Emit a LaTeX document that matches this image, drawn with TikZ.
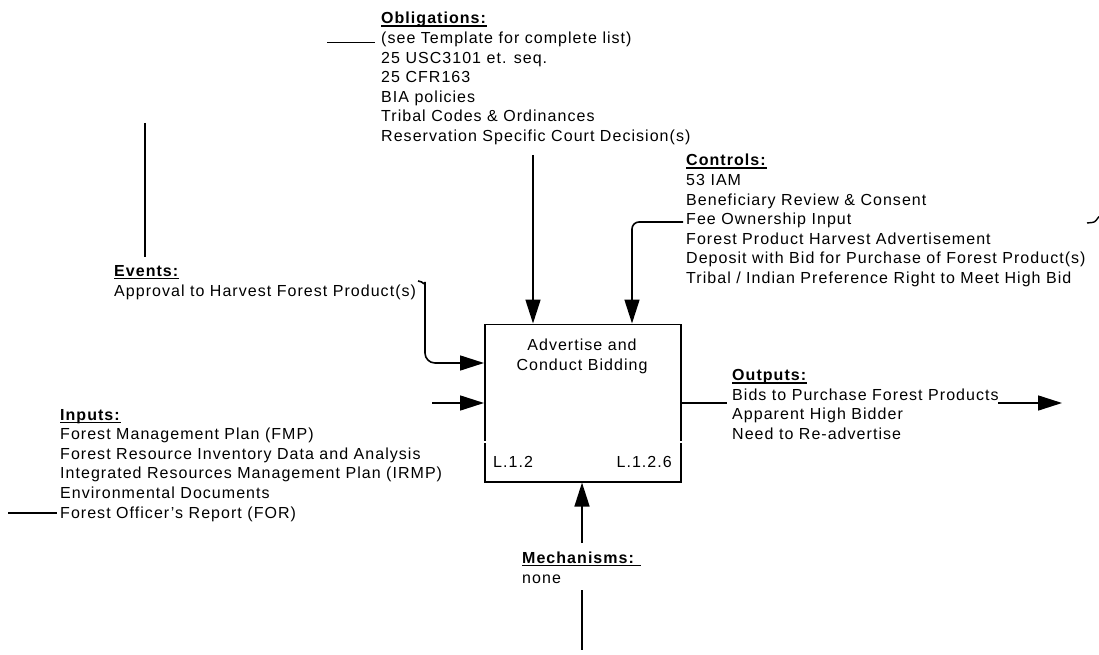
\documentclass[tikz,border=0pt]{standalone}
\usepackage{fontspec}
\setmainfont{Liberation Sans}[LetterSpace=6.5]
\usetikzlibrary{arrows.meta,calc}
% underlined bold heading with a fixed rule position
\newsavebox\hdbox
\newcommand\hd[1]{\sbox\hdbox{\textbf{#1}}\usebox\hdbox\llap{\rule[-2.8pt]{\wd\hdbox}{1.3pt}}}
\begin{document}
\begin{tikzpicture}[x=1pt,y=-1pt,
  every node/.style={inner sep=0pt, font=\fontsize{16}{19.6}\selectfont},
  % blocks are placed by the baseline of their last line
  block/.style={align=left, anchor=base west},
  wire/.style={line width=1.6pt},
  flow/.style={wire, -{Triangle[length=24pt,width=15pt]}},
]
\useasboundingbox (0,0) rectangle (1099,655);

% activity box
\node[draw, line width=1.6pt, minimum width=196pt, minimum height=157.5pt, anchor=north west] (act) at (484,323.5) {};
\fill[white] (481,440.5) rectangle (487,442.5);
\fill[white] (677,440.5) rectangle (683,442.5);
\node[align=center, anchor=base] (title) at (582,370) {Advertise and\\Conduct Bidding};
\node[anchor=base west] (nodeid) at (493,467) {L.1.2};
\node[anchor=base east] (ref) at (672,467) {L.1.2.6};

% obligations
\node[block] (obl) at (381,141.5) {\hd{Obligations:}\\(see Template for complete list)\\25 USC3101 et. seq.\\25 CFR163\\BIA policies\\Tribal Codes \& Ordinances\\Reservation Specific Court Decision(s)};
\coordinate (oblTail) at (327,42.5);
\coordinate (oblHead) at (375,42.5);
\draw[wire] (oblTail) -- (oblHead);
\coordinate (oblFoot) at (533,155);
\draw[flow] (oblFoot) -- (oblFoot |- act.north);

% controls
\node[block] (ctl) at (686,283.5) {\hd{Controls:}\\53 IAM\\Beneficiary Review \& Consent\\Fee Ownership Input\\Forest Product Harvest Advertisement\\Deposit with Bid for Purchase of Forest Product(s)\\Tribal / Indian Preference Right to Meet High Bid};
\coordinate (ctlStart) at (683,222);
\coordinate (ctlBend) at (632,222);
\draw[flow, rounded corners=7] (ctlStart) -- (ctlBend) -- (ctlBend |- act.north);
\coordinate (hookA) at (1087,223);
\coordinate (hookB) at (1099,216.5);
\draw[line width=1.4pt] (hookA) -- ++(5,-0.5) to[out=0,in=-130] (hookB);

% events
\coordinate (evTop) at (145,123);
\coordinate (evBot) at (145,257);
\draw[wire] (evTop) -- (evBot);
\node[block] (ev) at (114,296) {\hd{Events:}\\Approval to Harvest Forest Product(s)};
\coordinate (evStart) at (418,281);
\coordinate (evDrop) at (425,292);
\draw[flow, rounded corners=10] (evStart) to[out=0,in=90] (evDrop) -- (425,363) -- (act.west |- 0,363);

% inputs
\coordinate (inStart) at (432,403);
\draw[flow] (inStart) -- (inStart -| act.west);
\node[block] (inp) at (60,518) {\hd{Inputs:}\\Forest Management Plan (FMP)\\Forest Resource Inventory Data and Analysis\\Integrated Resources Management Plan (IRMP)\\Environmental Documents\\Forest Officer’s Report (FOR)};
\coordinate (inTail) at (8,513);
\coordinate (inHead) at (57,513);
\draw[wire] (inTail) -- (inHead);

% outputs
\coordinate (outA) at (727,403);
\draw[wire] (act.east |- outA) -- (outA);
\node[block] (out) at (732,439.5) {\hd{Outputs:}\\Bids to Purchase Forest Products\\Apparent High Bidder\\Need to Re-advertise};
\coordinate (outB) at (998,403);
\coordinate (outC) at (1062,403);
\draw[flow] (outB) -- (outC);

% mechanisms
\coordinate (mechTop) at (582,543);
\draw[flow] (mechTop) -- (mechTop |- act.south);
\node[block] (mech) at (522,583) {\hd{Mechanisms:~}\\none};
\coordinate (mechA) at (582,590);
\coordinate (mechB) at (582,650);
\draw[wire] (mechA) -- (mechB);
\end{tikzpicture}
\end{document}
